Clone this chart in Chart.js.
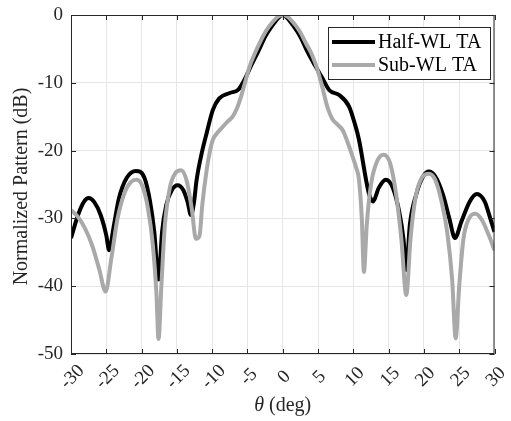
<!DOCTYPE html>
<html>
<head>
<meta charset="utf-8">
<script src="https://cdn.jsdelivr.net/npm/chart.js@4.4.1/dist/chart.umd.min.js"></script>
<style>
  html, body { margin: 0; padding: 0; background: #fff; }
</style>
</head>
<body>
<canvas id="c" width="511" height="421"></canvas>
<script>
// Half-WL TA pattern (deg, dB)
const thetaHalf = [-30, -29, -28.2, -27.5, -26.7, -25.8, -25.0, -24.6, -24.0, -23.2, -22.1, -20.8, -19.6, -18.8, -18.2, -17.6,
  -17.1, -16.5, -15.7, -14.9, -14.1, -13.5, -13.0, -12.6, -12.2, -11.4, -10.8, -9.9, -9.0, -7.5, -6.3, -5.4, -4.5, -3.4,
  -2.5, -1.5, -0.6, 0, 0.6, 1.5, 2.5, 3.4, 4.6, 5.6, 6.6, 8.0, 9.4, 10.2, 10.8, 11.8, 12.2, 12.8, 13.6, 14.6, 15.6, 16.5,
  17.1, 17.5, 18.0, 18.9, 19.9, 20.7, 21.6, 22.7, 23.6, 24.4, 25.3, 26.5, 27.5, 28.6, 29.4, 30];
const dbHalf = [-32.9, -29.5, -27.6, -27.0, -27.6, -29.5, -32.5, -34.7, -31.5, -27.0, -24.0, -23.0, -24.0, -27.5, -32.0, -39.0,
  -32.0, -28.0, -25.8, -25.1, -25.8, -27.5, -29.5, -27.8, -24.3, -20.0, -17.5, -14.0, -12.3, -11.5, -11.0, -9.5, -7.5, -5.2,
  -3.2, -1.6, -0.4, 0, -0.4, -1.6, -3.2, -5.2, -7.5, -9.3, -11.1, -11.8, -13.5, -16.0, -18.4, -24.3, -26.3, -27.5, -25.5, -24.3, -25.5, -29.0,
  -33.0, -37.6, -31.0, -26.5, -23.8, -23.1, -23.8, -26.5, -30.0, -32.9, -30.5, -27.5, -26.4, -27.5, -30.0, -32.0];

// Sub-WL TA pattern (deg, dB)
const thetaSub = [-30, -29, -28, -27, -26, -25.1, -24.3, -23.4, -22.4, -21.5, -20.7, -19.9, -19.1, -18.4, -17.9, -17.6, -17.2,
  -16.7, -16.0, -15.2, -14.4, -13.6, -12.9, -12.3, -11.8, -11.4, -10.8, -10.3, -9.9, -9.2, -8.5, -7.8, -7.1, -6.5, -5.9,
  -5.3, -4.7, -4.0, -3.3, -2.4, -1.4, -0.6, 0, 0.6, 1.4, 2.4, 3.3, 4.2, 4.9, 5.6, 6.3, 7.0, 7.8, 8.5, 9.2, 9.9, 10.4, 10.8,
  11.2, 11.5, 11.9, 12.5, 13.4, 14.3, 15.2, 16.0, 16.8, 17.5, 18.1, 18.8, 19.7, 20.7, 21.6, 22.5, 23.3, 24.0, 24.5, 25.0,
  25.6, 26.4, 27.3, 28.2, 29.2, 30];
const dbSub = [-28.8, -29.8, -31.5, -34.0, -37.5, -40.8, -36.0, -30.0, -26.2, -24.6, -24.3, -25.2, -28.5, -34.0, -41.0, -47.8, -40.0,
  -31.0, -25.5, -23.3, -22.9, -24.5, -28.5, -33.0, -32.6, -28.0, -23.0, -20.0, -18.4, -17.3, -16.5, -15.7, -15.0, -13.8, -12.0,
  -9.8, -7.6, -5.8, -4.2, -2.4, -1.0, -0.2, 0, -0.2, -1.0, -2.4, -4.2, -6.0, -8.0, -10.6, -13.5, -15.3, -16.2, -17.0, -18.8, -20.9, -22.5, -24.3,
  -30.0, -37.9, -31.0, -25.0, -21.5, -20.6, -21.8, -26.0, -33.0, -41.3, -33.0, -27.0, -24.0, -23.4, -24.3, -27.5, -32.0, -39.0, -47.7, -40.0,
  -33.0, -30.0, -29.3, -30.2, -32.5, -34.7];

const seriesNames = ['Half-WL TA', 'Sub-WL TA'];
const seriesColors = ['#000000', '#a9a9a9'];
const xTicks = [-30, -25, -20, -15, -10, -5, 0, 5, 10, 15, 20, 25, 30];
const yTicks = [0, -10, -20, -30, -40, -50];

const SERIF = '"Liberation Serif", "DejaVu Serif", serif';
const INK = '#262626';

const toPoints = (xs, ys) => xs.map((v, i) => ({ x: v, y: ys[i] }));

// box, inward ticks, centred rotated x labels, legend and axis titles (MATLAB look)
const frame = {
  id: 'frame',
  afterDraw(chart) {
    const { ctx, chartArea: a, scales: { x, y } } = chart;
    ctx.save();
    ctx.strokeStyle = INK;
    ctx.lineWidth = 1;
    ctx.strokeRect(a.left + 0.5, a.top + 0.5, a.right - a.left - 1, a.bottom - a.top - 1);
    ctx.beginPath();
    xTicks.forEach((t) => {
      const px = Math.round(x.getPixelForValue(t)) + 0.5;
      ctx.moveTo(px, a.bottom); ctx.lineTo(px, a.bottom - 5);
      ctx.moveTo(px, a.top); ctx.lineTo(px, a.top + 5);
    });
    yTicks.forEach((t) => {
      const py = Math.round(y.getPixelForValue(t)) + 0.5;
      ctx.moveTo(a.left, py); ctx.lineTo(a.left + 5, py);
      ctx.moveTo(a.right, py); ctx.lineTo(a.right - 5, py);
    });
    ctx.stroke();

    ctx.fillStyle = INK;
    ctx.font = '19px ' + SERIF;
    ctx.textAlign = 'center';
    ctx.textBaseline = 'middle';
    xTicks.forEach((t) => {
      ctx.save();
      ctx.translate(x.getPixelForValue(t) + 1.5, a.bottom + 23);
      ctx.rotate(-Math.PI / 4);
      ctx.fillText(String(t), 0, 0);
      ctx.restore();
    });

    // legend box inside the plot
    const bx = 328, by = 27, bw = 162, bh = 52;
    ctx.fillStyle = '#fff';
    ctx.fillRect(bx, by, bw, bh);
    ctx.strokeStyle = INK;
    ctx.strokeRect(bx + 0.5, by + 0.5, bw, bh);
    ctx.font = '20px ' + SERIF;
    ctx.textAlign = 'left';
    seriesNames.forEach((name, i) => {
      const ly = by + 15 + i * 23;
      ctx.strokeStyle = seriesColors[i];
      ctx.lineWidth = 4;
      ctx.beginPath();
      ctx.moveTo(bx + 4, ly); ctx.lineTo(bx + 47, ly);
      ctx.stroke();
      ctx.fillStyle = '#000';
      ctx.fillText(name, bx + 50, ly + 1);
    });

    // axis titles
    ctx.fillStyle = INK;
    ctx.textAlign = 'center';
    ctx.save();
    ctx.translate(22, (a.top + a.bottom) / 2 + 2);
    ctx.rotate(-Math.PI / 2);
    ctx.fillText('Normalized Pattern (dB)', 0, 0);
    ctx.restore();

    const cx = (a.left + a.right) / 2;
    ctx.textAlign = 'left';
    ctx.font = 'italic 20px ' + SERIF;
    const w1 = ctx.measureText('θ').width;
    ctx.font = '20px ' + SERIF;
    const w2 = ctx.measureText(' (deg)').width;
    const sx = cx - (w1 + w2) / 2;
    ctx.font = 'italic 20px ' + SERIF;
    ctx.fillText('θ', sx, 406);
    ctx.font = '20px ' + SERIF;
    ctx.fillText(' (deg)', sx + w1, 406);
    ctx.restore();
  }
};

new Chart(document.getElementById('c'), {
  type: 'line',
  data: {
    datasets: [
      {
        label: seriesNames[0],
        data: toPoints(thetaHalf, dbHalf),
        borderColor: seriesColors[0],
        borderWidth: 4,
        pointRadius: 0,
        cubicInterpolationMode: 'monotone',
        order: 2,
      },
      {
        label: seriesNames[1],
        data: toPoints(thetaSub, dbSub),
        borderColor: seriesColors[1],
        borderWidth: 4,
        pointRadius: 0,
        cubicInterpolationMode: 'monotone',
        order: 1,
      },
    ],
  },
  options: {
    responsive: false,
    animation: false,
    layout: { padding: { left: 0, right: 16.5, top: 15, bottom: 0 } },
    plugins: { legend: { display: false }, tooltip: { enabled: false } },
    scales: {
      x: {
        type: 'linear',
        min: -30, max: 30,
        afterFit: (s) => { s.height = 67; s.paddingLeft = 0; s.paddingRight = 0; },
        afterBuildTicks: (s) => { s.ticks = xTicks.map((v) => ({ value: v })); },
        grid: { color: '#e6e6e6', drawTicks: false },
        border: { display: false },
        ticks: { display: false },
      },
      y: {
        min: -50, max: 0,
        afterFit: (s) => { s.width = 71; s.paddingTop = 0; s.paddingBottom = 0; },
        afterBuildTicks: (s) => { s.ticks = yTicks.map((v) => ({ value: v })); },
        grid: { color: '#e6e6e6', drawTicks: false },
        border: { display: false },
        ticks: {
          color: INK,
          font: { family: SERIF, size: 19 },
          padding: 8,
        },
      },
    },
  },
  plugins: [frame],
});
</script>
</body>
</html>
